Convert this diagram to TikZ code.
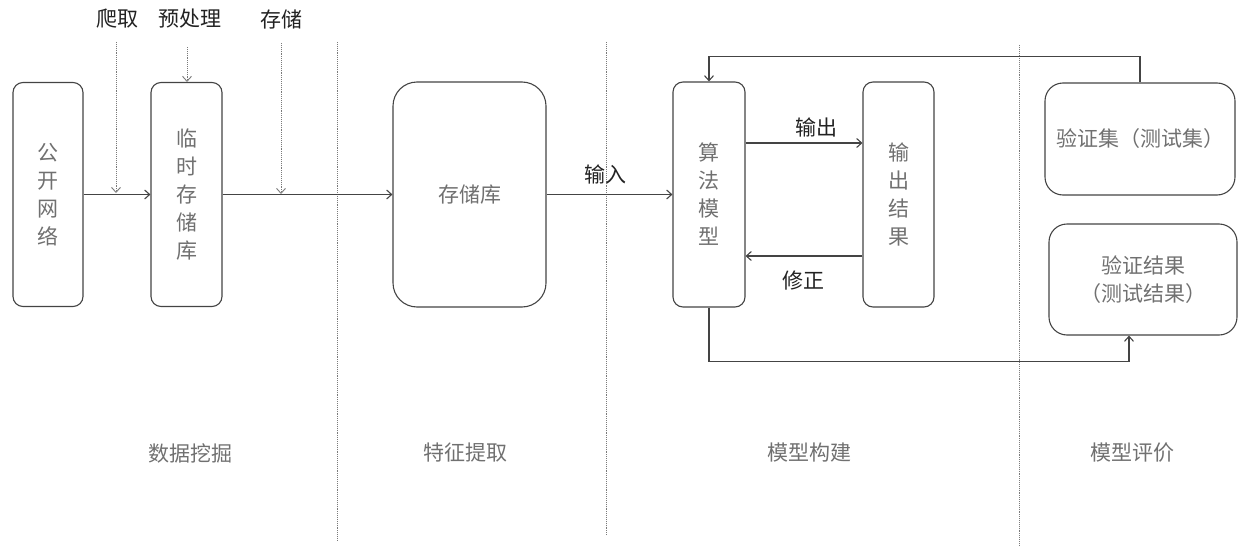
\documentclass[tikz,border=0pt]{standalone}
\usepackage{fontspec}
\newfontfamily\cjk{Noto Sans CJK SC}
\usetikzlibrary{arrows.meta}
\definecolor{linec}{HTML}{444444}
\definecolor{boxtext}{HTML}{707070}
\definecolor{labtext}{HTML}{222222}
\definecolor{sepc}{HTML}{7a7a7a}
\tikzset{
  box/.style={draw=linec, line width=1.1pt, rounded corners=10pt, inner sep=0pt,
    font=\cjk\fontsize{21}{28}\selectfont, text=boxtext, align=center},
  lab/.style={font=\cjk\fontsize{21}{26}\selectfont, text=labtext, inner sep=0pt},
  stage/.style={font=\cjk\fontsize{21}{26}\selectfont, text=boxtext, inner sep=0pt},
  arr/.style={draw=linec, line width=1.1pt, -{Straight Barb[length=5pt,width=9pt]}},
  dotarr/.style={draw=sepc, line width=0.9pt, densely dotted, -{Straight Barb[length=5pt,width=9pt]}},
  sepline/.style={draw=sepc, line width=0.9pt, densely dotted}
}
\begin{document}
\begin{tikzpicture}[x=1pt,y=-1pt]
\useasboundingbox (0,0) rectangle (1245,546);
% separators
\draw[sepline] (337,42) -- (337,540);
\draw[sepline] (606,42) -- (606,535);
\draw[sepline] (1019,45) -- (1019,546);
% boxes
\node[box, minimum width=70pt, minimum height=224pt] (a) at (48,194.5) {公\\开\\网\\络};
\node[box, minimum width=71pt, minimum height=224pt] (b) at (186.5,194.5) {临\\时\\存\\储\\库};
\node[box, rounded corners=24pt, minimum width=153pt, minimum height=225pt] (c) at (469.5,194.5) {存储库};
\node[box, minimum width=72pt, minimum height=225pt] (d) at (709,194.5) {算\\法\\模\\型};
\node[box, minimum width=71pt, minimum height=225pt] (e) at (898.5,194.5) {输\\出\\结\\果};
\node[box, rounded corners=18pt, minimum width=190pt, minimum height=112pt] (f) at (1140,139) {验证集（测试集）};
\node[box, rounded corners=18pt, minimum width=188pt, minimum height=111pt] (g) at (1143,279.5) {验证结果\\（测试结果）};
% top labels
\node[lab] (l1) at (117,19) {爬取};
\node[lab] (l2) at (190,19) {预处理};
\node[lab] (l3) at (281,19) {存储};
\node[lab] (l4) at (605,174) {输入};
\node[lab] (l5) at (816,127) {输出};
\node[lab] (l6) at (803,281) {修正};
% stage labels
\node[stage] (s1) at (190,453) {数据挖掘};
\node[stage] (s2) at (465,453) {特征提取};
\node[stage] (s3) at (809,453) {模型构建};
\node[stage] (s4) at (1132,453) {模型评价};
% main flow
\draw[arr] (a) -- (b);
\draw[arr] (b) -- (c);
\draw[arr] (c) -- (d);
\draw[arr] ([yshift=51.5pt]d.east) -- ([yshift=51.5pt]d.east -| e.west);
\draw[arr] ([yshift=-61.5pt]e.west) -- ([yshift=-61.5pt]e.west -| d.east);
\draw[arr] (f.north) -- ++(0,-26) -| (d.north);
\draw[arr] (d.south) -- ++(0,54) -| ([xshift=-14pt]g.south);
% dotted arrows
\coordinate (t1) at (116,42);
\coordinate (h1) at (116,193);
\coordinate (t2) at (187,47);
\coordinate (t3) at (281,43);
\coordinate (h3) at (281,194);
\draw[dotarr] (t1) -- (h1);
\draw[dotarr] (t2) -- (t2 |- b.north);
\draw[dotarr] (t3) -- (h3);
\end{tikzpicture}
\end{document}
